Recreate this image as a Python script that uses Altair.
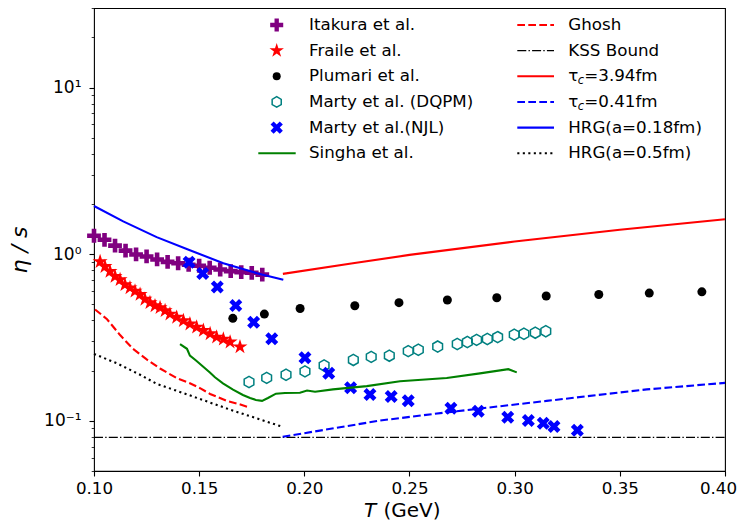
import math
import altair as alt
import pandas as pd

# ---------------- data ----------------
itakura_T = [0.100, 0.105, 0.110, 0.115, 0.120, 0.125, 0.130, 0.135, 0.140,
             0.145, 0.150, 0.155, 0.160, 0.165, 0.170, 0.175, 0.180]
itakura_v = [1.29, 1.22, 1.125, 1.05, 0.996, 0.969, 0.930, 0.899, 0.882,
             0.864, 0.852, 0.829, 0.809, 0.791, 0.780, 0.773, 0.754]

fraile_T = [0.1029, 0.1052, 0.1076, 0.1100, 0.1124, 0.1147, 0.1171, 0.1195, 0.1219,
            0.1242, 0.1266, 0.1290, 0.1314, 0.1338, 0.1361, 0.1393, 0.1425, 0.1456,
            0.1488, 0.1520, 0.1552, 0.1583, 0.1615, 0.1647, 0.1694]
fraile_v = [0.902, 0.843, 0.788, 0.736, 0.703, 0.656, 0.628, 0.600, 0.573,
            0.536, 0.512, 0.490, 0.478, 0.458, 0.437, 0.418, 0.399, 0.381,
            0.365, 0.349, 0.333, 0.318, 0.309, 0.297, 0.278]

plumari_T = [0.166, 0.181, 0.198, 0.224, 0.245, 0.268, 0.2915, 0.315, 0.340, 0.364, 0.389]
plumari_v = [0.412, 0.437, 0.472, 0.490, 0.512, 0.531, 0.548, 0.561, 0.573, 0.584, 0.594]

dqpm_T = [0.1737, 0.1821, 0.1913, 0.2003, 0.2094, 0.2233, 0.2318, 0.2404, 0.2494, 0.2542,
          0.2634, 0.2727, 0.2775, 0.2819, 0.2870, 0.2919, 0.2998, 0.3044, 0.3098, 0.3148]
dqpm_v = [0.171, 0.181, 0.189, 0.198, 0.215, 0.232, 0.242, 0.246, 0.262, 0.267,
          0.279, 0.289, 0.297, 0.306, 0.310, 0.318, 0.329, 0.333, 0.338, 0.345]

njl_T = [0.1452, 0.1517, 0.1586, 0.1674, 0.1759, 0.1845, 0.2003, 0.2116, 0.2220, 0.2312,
         0.2413, 0.2494, 0.2697, 0.2827, 0.2967, 0.3065, 0.3136, 0.3187, 0.3298]
njl_v = [0.894, 0.766, 0.635, 0.492, 0.390, 0.311, 0.239, 0.193, 0.158, 0.144,
         0.140, 0.132, 0.119, 0.114, 0.105, 0.1004, 0.0968, 0.0926, 0.0877]

singha_T = [0.1409, 0.1442, 0.1456, 0.1485, 0.1518, 0.1551, 0.1575, 0.1613, 0.1661, 0.1708,
            0.1742, 0.1770, 0.1799, 0.1827, 0.1865, 0.1908, 0.1979, 0.2013, 0.2051, 0.2136,
            0.2297, 0.2455, 0.2677, 0.2835, 0.2970, 0.3010]
singha_v = [0.289, 0.2705, 0.246, 0.230, 0.212, 0.195, 0.1825, 0.168, 0.154, 0.143,
            0.137, 0.1335, 0.1317, 0.137, 0.1455, 0.1469, 0.1474, 0.1519, 0.1494, 0.1544,
            0.1615, 0.1728, 0.1807, 0.1927, 0.2042, 0.1953]

ghosh_T = [0.1005, 0.1062, 0.1124, 0.1185, 0.1252, 0.1314, 0.1395, 0.1456, 0.1504,
           0.1552, 0.1632, 0.1680, 0.1742]
ghosh_v = [0.466, 0.407, 0.327, 0.2705, 0.233, 0.206, 0.180, 0.168, 0.157,
           0.145, 0.1317, 0.127, 0.120]

kss_T = [0.10, 0.40]
kss_v = [0.0796, 0.0796]

tau394_T = [0.1898, 0.2231, 0.25, 0.30, 0.35, 0.40]
tau394_v = [0.762, 0.882, 0.99, 1.19, 1.40, 1.62]

tau041_T = [0.1897, 0.2360, 0.2677, 0.3152, 0.3628, 0.40]
tau041_v = [0.0802, 0.1004, 0.1124, 0.1317, 0.1544, 0.169]

hrg018_T = [0.100, 0.1139, 0.1298, 0.1456, 0.1615, 0.1774, 0.190]
hrg018_v = [1.945, 1.573, 1.266, 1.056, 0.882, 0.769, 0.703]

hrg05_T = [0.100, 0.1108, 0.1219, 0.1298, 0.1441, 0.1552, 0.1662, 0.1774, 0.190]
hrg05_v = [0.252, 0.2216, 0.189, 0.1666, 0.1443, 0.1287, 0.115, 0.1035, 0.0917]

x_ticks = [0.10, 0.15, 0.20, 0.25, 0.30, 0.35, 0.40]
y_ticks = [0.05, 0.06, 0.07, 0.08, 0.09, 0.1, 0.2, 0.3, 0.4, 0.5, 0.6, 0.7, 0.8, 0.9,
           1, 2, 3, 4, 5, 6, 7, 8, 9, 10, 20, 30]

legend_col1 = ["Itakura et al.", "Fraile et al.", "Plumari et al.",
               "Marty et al. (DQPM)", "Marty et al.(NJL)", "Singha et al."]
legend_col2 = ["Ghosh", "KSS Bound", "=3.94fm", "=0.41fm", "HRG(a=0.18fm)", "HRG(a=0.5fm)"]

# ---------------- marker shapes ----------------
def fmt_path(pts):
    return "M" + "L".join(f"{x:.4f},{y:.4f}" for x, y in pts) + "Z"

t = 1.0 / 3.0
plus_pts = [(-t, -1), (t, -1), (t, -t), (1, -t), (1, t), (t, t), (t, 1), (-t, 1),
            (-t, t), (-1, t), (-1, -t), (-t, -t)]
PLUS = fmt_path(plus_pts)
c45 = math.cos(math.pi / 4)
XSHAPE = fmt_path([((x - y) * c45, (x + y) * c45) for x, y in plus_pts])
star_pts = []
for k in range(10):
    r = 1.0 if k % 2 == 0 else 0.382
    a = math.radians(-90 + 36 * k)
    star_pts.append((r * math.cos(a), r * math.sin(a)))
STAR = fmt_path(star_pts)
HEX = fmt_path([(math.cos(math.radians(-90 + 60 * k)), math.sin(math.radians(-90 + 60 * k)))
                for k in range(6)])

xscale = alt.Scale(domain=[0.1, 0.4], nice=False, zero=False)
yscale = alt.Scale(type="log", domain=[0.05, 30], nice=False)

major_test = "abs(log(datum.value)/LN10 - round(log(datum.value)/LN10)) < 1e-6"
x_axis = alt.Axis(values=x_ticks, format=".2f", title=None, grid=False, domain=False,
                  tickColor="black", tickSize=5, tickWidth=1.1, labelFontSize=16.7,
                  labelColor="black", labelPadding=4, labelFlush=False, labelOverlap=False,
                  labelOffset={"condition": {"test": "datum.value > 0.395", "value": -7},
                               "value": 0})
y_axis = alt.Axis(values=y_ticks, title=None, grid=False, domain=False,
                  tickColor="black",
                  tickSize={"condition": {"test": major_test, "value": 5}, "value": 2.8},
                  tickWidth={"condition": {"test": major_test, "value": 1.1}, "value": 0.8},
                  labelExpr="datum.value == 0.1 ? '10⁻¹' : datum.value == 1 ? '10⁰' : datum.value == 10 ? '10¹' : ''",
                  labelFontSize=17, labelColor="black", labelPadding=8, labelOverlap=False)


def df(T, v):
    return pd.DataFrame({"T": T, "v": v})


def enc(ch):
    return ch.encode(
        x=alt.X("T:Q", scale=xscale, axis=x_axis),
        y=alt.Y("v:Q", scale=yscale, axis=y_axis),
    )


def points(T, v, shape, color, size, filled=True):
    if filled:
        m = alt.Chart(df(T, v)).mark_point(shape=shape, filled=True, color=color,
                                           size=size, opacity=1, strokeWidth=0)
    else:
        m = alt.Chart(df(T, v)).mark_point(shape=shape, filled=False, color=color,
                                           size=size, opacity=1, strokeWidth=1.5)
    return enc(m)


def line(T, v, color, dash=None, width=2.1):
    kw = dict(color=color, strokeWidth=width)
    if dash:
        kw["strokeDash"] = dash
    return enc(alt.Chart(df(T, v)).mark_line(**kw))


DASH = [7.7, 3.3]
DOT = [2.1, 3.4]
DASHDOT = [9, 2.2, 1.4, 2.2]

S_PLUS, S_STAR, S_CIRC, S_HEX, S_X = 190, 250, 81, 125, 190

layers = [
    points(itakura_T, itakura_v, PLUS, "purple", S_PLUS),
    points(fraile_T, fraile_v, STAR, "red", S_STAR),
    points(plumari_T, plumari_v, "circle", "black", S_CIRC),
    points(dqpm_T, dqpm_v, HEX, "teal", S_HEX, filled=False),
    points(njl_T, njl_v, XSHAPE, "blue", S_X),
    line(singha_T, singha_v, "green"),
    line(ghosh_T, ghosh_v, "red", DASH),
    line(kss_T, kss_v, "black", DASHDOT, 1.3),
    line(tau394_T, tau394_v, "red"),
    line(tau041_T, tau041_v, "blue", DASH),
    line(hrg018_T, hrg018_v, "blue"),
    line(hrg05_T, hrg05_v, "black", DOT),
]

# ---------------- manual legend ----------------
one = pd.DataFrame({"k": [0]})
row_y = [17 + 25.65 * i for i in range(6)]
FS = 16.7


def ltext(txt, x, y, size=FS, style="normal", angle=0, align="left"):
    return alt.Chart(one).mark_text(text=txt, align=align, baseline="middle", fontSize=size,
                                    fontStyle=style, color="black", angle=angle,
                                    font="DejaVu Sans").encode(
        x=alt.value(x), y=alt.value(y))


def lmarker(shape, color, size, y, filled=True):
    if filled:
        m = alt.Chart(one).mark_point(shape=shape, filled=True, color=color, size=size,
                                      opacity=1, strokeWidth=0)
    else:
        m = alt.Chart(one).mark_point(shape=shape, filled=False, color=color, size=size,
                                      opacity=1, strokeWidth=1.5)
    return m.encode(x=alt.value(182.7), y=alt.value(y))


def lline(x1, x2, y, color, dash=None, width=2.1):
    kw = dict(color=color, strokeWidth=width)
    if dash:
        kw["strokeDash"] = dash
    return alt.Chart(one).mark_rule(**kw).encode(x=alt.value(x1), x2=alt.value(x2), y=alt.value(y))


leg = [
    lmarker(PLUS, "purple", 170, row_y[0]),
    lmarker(STAR, "red", 230, row_y[1]),
    lmarker("circle", "black", 64, row_y[2]),
    lmarker(HEX, "teal", 110, row_y[3], filled=False),
    lmarker(XSHAPE, "blue", 170, row_y[4]),
    lline(164.3, 201.7, row_y[5], "green"),
]
for i, lab in enumerate(legend_col1):
    leg.append(ltext(lab, 215, row_y[i]))

c2x1, c2x2, c2t = 423.3, 460, 474.3
leg += [
    lline(c2x1, c2x2, row_y[0], "red", DASH),
    lline(c2x1, c2x2, row_y[1], "black", DASHDOT, 1.3),
    lline(c2x1, c2x2, row_y[2], "red"),
    lline(c2x1, c2x2, row_y[3], "blue", DASH),
    lline(c2x1, c2x2, row_y[4], "blue"),
    lline(c2x1, c2x2, row_y[5], "black", DOT),
]
for i, lab in enumerate(legend_col2):
    if i in (2, 3):
        leg.append(ltext("τ", c2t, row_y[i]))
        leg.append(ltext("c", c2t + 9.5, row_y[i] + 5, size=11.5, style="italic"))
        leg.append(ltext(lab, c2t + 16, row_y[i]))
    else:
        leg.append(ltext(lab, c2t, row_y[i]))

# axis titles
titles = [
    ltext("T", 270, 503, size=20, style="italic"),
    ltext("(GeV)", 289.5, 503, size=20),
    ltext("η / s", -74, 242, size=22, style="italic", angle=270, align="center"),
]

chart = alt.layer(*layers, *leg, *titles).properties(
    width=631, height=463,
    autosize=alt.AutoSizeParams(type="none"),
    padding={"left": 86, "top": 0, "right": 12, "bottom": 52},
).configure(font="DejaVu Sans").configure_view(stroke="black", strokeWidth=1.1)

chart.save("out.html", embed_options={"renderer": "svg", "actions": False})
